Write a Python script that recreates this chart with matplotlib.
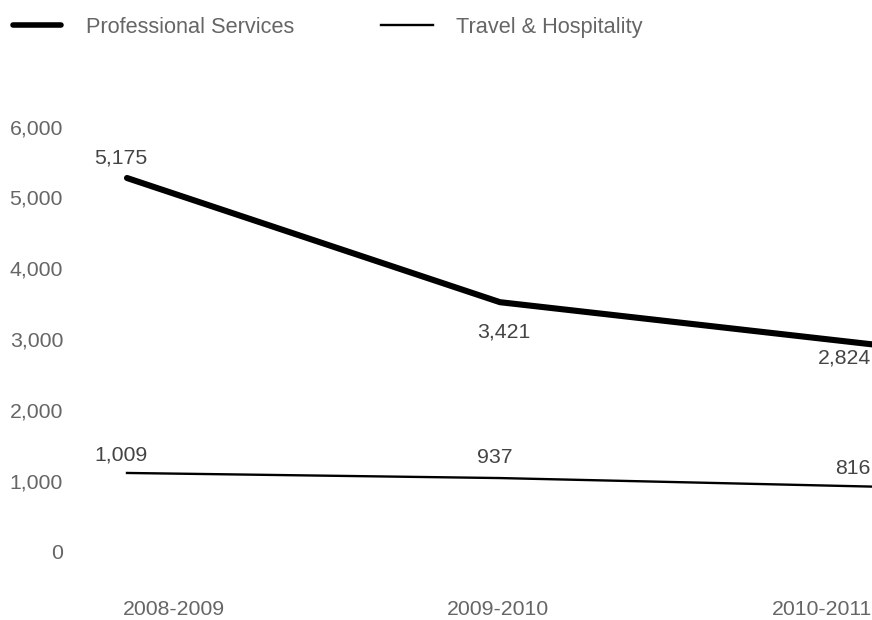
import matplotlib
matplotlib.use("Agg")
import matplotlib.pyplot as plt
from matplotlib.lines import Line2D
from matplotlib.transforms import blended_transform_factory, offset_copy

plt.rcParams['font.family'] = ['Liberation Sans', 'DejaVu Sans']

# data
periods = ['2008-2009', '2009-2010', '2010-2011']
professional = [5175, 3421, 2824]
travel = [1009, 937, 816]
yticks = [0, 1000, 2000, 3000, 4000, 5000, 6000]

W, H = 872, 620
fig = plt.figure(figsize=(W / 100, H / 100), dpi=100)
ax = fig.add_axes([127 / W, (H - 544.4) / H, 746 / W, (544.4 - 119.6) / H])
ax.set_xlim(0, 2)
ax.set_ylim(0, 6000)
ax.axis('off')

x = list(range(len(periods)))
ax.plot(x, professional, color='black', lw=4.4, solid_capstyle='round',
        solid_joinstyle='round', clip_on=False)
ax.plot(x, travel, color='black', lw=1.7, clip_on=False)

axis_col = '#666666'
label_col = '#444444'
fs = 15.3

# y axis labels (no ticks or grid)
ytrans = offset_copy(blended_transform_factory(fig.transFigure, ax.transData),
                     fig=fig, x=0, y=-9, units='dots')
for v in yticks:
    ax.text(63 / W, v, f'{v:,}', transform=ytrans, ha='right', va='center',
            fontsize=fs, color=axis_col)

# category labels
cat_align = [('left', -4), ('center', -2), ('right', -1)]
for i, p in enumerate(periods):
    ha, dx = cat_align[i]
    ax.annotate(p, xy=(i, 0), xycoords=('data', 'figure fraction'),
                xytext=(dx, 1), textcoords='offset pixels', ha=ha, va='bottom',
                fontsize=fs, color=axis_col, annotation_clip=False)

# value labels
prof_off = [(-6, 20, 'center'), (4, -30, 'center'), (-2, -14, 'right')]
trav_off = [(-6, 18, 'center'), (-5, 21, 'center'), (-3, 18, 'right')]
for series, offs in [(professional, prof_off), (travel, trav_off)]:
    for i, v in enumerate(series):
        dx, dy, ha = offs[i]
        ax.annotate(f'{v:,}', xy=(i, v), xytext=(dx, dy), textcoords='offset pixels',
                    ha=ha, va='center', fontsize=fs, color=label_col,
                    annotation_clip=False)

# legend
ly = (H - 25) / H
ty = (H - 27.5) / H
fig.add_artist(Line2D([13 / W, 61 / W], [ly, ly], color='black', lw=4.0,
                      solid_capstyle='round', transform=fig.transFigure))
fig.add_artist(Line2D([381 / W, 433 / W], [ly, ly], color='black', lw=1.7,
                      transform=fig.transFigure))
fig.text(85.5 / W, ty, 'Professional Services', ha='left', va='center',
         fontsize=15.7, color=axis_col)
fig.text(456.5 / W, ty, 'Travel & Hospitality', ha='left', va='center',
         fontsize=15.7, color=axis_col)

fig.savefig('out.png', dpi=100)
